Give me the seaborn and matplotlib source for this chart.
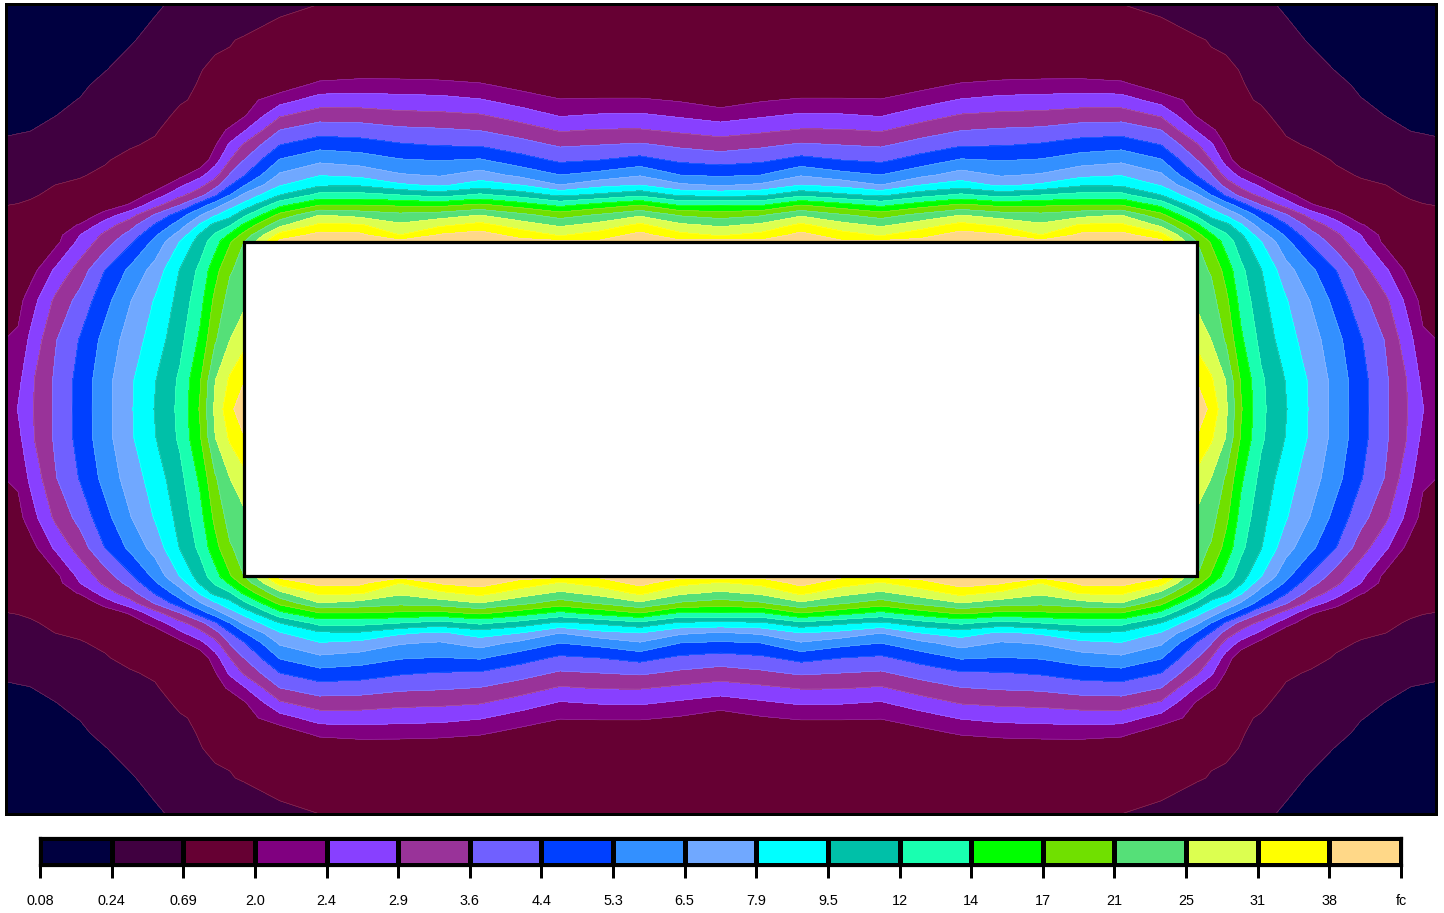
import numpy as np
import matplotlib
matplotlib.use('Agg')
import matplotlib.pyplot as plt
from matplotlib.colors import ListedColormap
from matplotlib.patches import Rectangle
import seaborn as sns

# illuminance legend
break_labels = ['0.08', '0.24', '0.69', '2.0', '2.4', '2.9', '3.6', '4.4', '5.3', '6.5', '7.9',
                '9.5', '12', '14', '17', '21', '25', '31', '38', 'fc']
band_colors = ['#000040', '#400040', '#660033', '#800080', '#8840FF', '#993399', '#7060FF', '#0040FF',
               '#3390FF', '#70A8FF', '#00FFFF', '#00C0A8', '#19FFB0', '#00FF00', '#70E000', '#55E078',
               '#DCFF50', '#FFFF00', '#FFD888']

# measuring stations of the top left quarter of the room, the rest is symmetric
x_stations = [5, 18, 30, 55, 80, 105, 130, 155, 180, 200, 215, 230, 244,
              280, 320, 360, 400, 440, 480, 520, 560, 600, 640, 680, 720.5]
y_stations = [4, 40, 70, 85, 100, 115, 130, 145, 160, 175, 185, 195, 205, 215, 225, 235, 242,
              270, 300, 340, 380, 409]

# position inside the legend scale (0 = 0.08 fc, 1 = 0.24 fc, ...), one list for each x station
band_x005 = [.05, .26, .49, .6, .72, .83, .93, 1.09, 1.31, 1.54, 1.69, 1.84, 1.99, 2.07, 2.15, 2.22, 2.27, 2.3, 2.4, 3.01, 3.25, 3.35]
band_x018 = [.07, .3, .52, .63, .74, .85, .95, 1.15, 1.37, 1.6, 1.74, 1.88, 2.02, 2.1, 2.15, 2.2, 2.25, 2.4, 2.65, 3.18, 3.7, 4.05]
band_x030 = [.1, .35, .56, .67, .77, .88, .98, 1.2, 1.42, 1.64, 1.79, 1.94, 2.07, 2.12, 2.16, 2.2, 2.25, 2.53, 3.47, 4.17, 4.77, 4.8]
band_x055 = [.2, .45, .66, .77, .88, .98, 1.19, 1.41, 1.63, 1.85, 2, 2.1, 2.2, 2.3, 2.4, 2.55, 2.68, 4.13, 5.17, 5.91, 6.13, 6.15]
band_x080 = [.3, .56, .79, .9, 1.02, 1.21, 1.4, 1.59, 1.78, 1.96, 2.08, 2.1, 2.15, 2.2, 3.09, 4, 4.28, 5.45, 6.34, 7.07, 7.35, 7.4]
band_x105 = [.5, .75, .98, 1.15, 1.31, 1.47, 1.63, 1.79, 1.95, 2.1, 2.2, 2.25, 2.33, 3.44, 4.5, 5.22, 5.52, 7, 7.64, 8.33, 8.63, 8.65]
band_x130 = [.6, .94, 1.22, 1.37, 1.51, 1.65, 1.8, 1.94, 2.17, 2.2, 2.2, 2.25, 3.13, 4.6, 5.6, 6.33, 6.8, 8.21, 8.93, 9.45, 9.82, 9.86]
band_x155 = [.9, 1.19, 1.44, 1.56, 1.69, 1.81, 1.93, 2.1, 2.2, 2.25, 2.33, 3.44, 4.63, 6.1, 7.08, 7.85, 8.28, 9.39, 10.07, 10.46, 10.95, 11.05]
band_x180 = [1.14, 1.45, 1.7, 1.81, 1.95, 2.1, 2.33, 2.4, 2.5, 2.67, 3.78, 4.73, 6, 7.56, 8.5, 9.4, 10.05, 11.05, 11.33, 11.7, 12.18, 12.25]
band_x200 = [1.26, 1.65, 1.97, 2.05, 2.08, 2.1, 2.12, 2.15, 2.2, 3.7, 4.7, 5.64, 7.5, 8.89, 10.13, 11.14, 11.48, 12.23, 12.63, 13.19, 13.9, 14.1]
band_x215 = [1.3, 1.85, 2.15, 2.2, 2.3, 2.4, 2.5, 2.91, 3.57, 4.63, 5.58, 6.83, 8.5, 9.88, 11.33, 12.13, 12.57, 13.62, 14.24, 14.87, 15.95, 16.2]
band_x230 = [1.5, 1.97, 2.1, 2.1, 2.15, 2.2, 3.2, 4.17, 5, 6.08, 6.92, 8, 9.56, 10.67, 11.88, 13.2, 13.9, 14.9, 15.4, 16, 17.15, 17.73]
band_x244 = [1.6, 2.05, 2.2, 2.4, 2.6, 2.86, 3.88, 5.12, 6, 6.9, 7.9, 9.2, 10.3, 11.75, 13.2, 14.33, 15, 15.35, 15.76, 16.66, 17.93, 18.7]
# these stations end at the top edge of the building
band_x280 = [1.85, 2.26, 2.3, 2.37, 3.59, 4.85, 6, 7, 8.07, 9.15, 9.92, 11, 12.72, 14.29, 15.75, 17.38, 18.3]
band_x320 = [2, 2.1, 2.15, 3.31, 4.44, 5.52, 6.55, 7.62, 8.77, 9.94, 10.85, 12.33, 14, 16, 17.22, 18.33, 18.9]
band_x360 = [2.1, 2.25, 2.39, 3.44, 4.47, 5.48, 6.48, 7.47, 8.51, 9.73, 10.86, 12.33, 14, 15.66, 17.11, 18.22, 18.9]
band_x400 = [2.2, 2.3, 2.4, 3.4, 4.36, 5.27, 6.2, 7.12, 8.07, 9.1, 10.15, 12, 13.83, 15.28, 16.17, 17, 18.4]
band_x440 = [2.2, 2.3, 2.33, 3.33, 4.3, 5.2, 6.11, 6.94, 7.95, 8.89, 9.83, 11.58, 13.72, 15.52, 16.8, 18.1, 18.9]
band_x480 = [2.2, 2.2, 2.19, 3.13, 4.07, 5.06, 5.96, 6.9, 8.09, 9.45, 10.44, 12.2, 14.2, 16, 17.33, 18.44, 18.9]
band_x520 = [2.3, 2.4, 2.5, 2.66, 3.55, 4.51, 5.5, 6.41, 7.42, 8.73, 10, 11.58, 13.53, 15.29, 16.5, 17.62, 18.4]
band_x560 = [2.3, 2.25, 2.2, 2.21, 3.06, 3.9, 4.89, 5.87, 6.81, 8, 9, 10.8, 12.72, 14.55, 15.81, 16.9, 18.3]
band_x600 = [2.3, 2.25, 2.2, 2.19, 3.12, 4.07, 5.06, 6, 7, 8.34, 9.68, 11.21, 13.4, 15.13, 16.35, 17.44, 18.2]
band_x640 = [2.3, 2.2, 2.15, 2.13, 3.13, 4.12, 5.07, 6.14, 7.33, 8.9, 10, 11.75, 14, 15.83, 17.22, 18.33, 18.9]
band_x680 = [2.4, 2.5, 2.6, 2.7, 2.89, 3.83, 4.8, 5.8, 6.8, 8, 9.17, 10.83, 12.88, 14.88, 16.2, 17.29, 18.3]
band_x720 = [2.4, 2.4, 2.4, 2.4, 2.45, 3.52, 4.54, 5.54, 6.58, 7.84, 8.9, 10.7, 13, 14.55, 15.8, 16.9, 18.5]

band_columns = [band_x005, band_x018, band_x030, band_x055, band_x080, band_x105, band_x130, band_x155, band_x180,
                band_x200, band_x215, band_x230, band_x244, band_x280, band_x320, band_x360, band_x400,
                band_x440, band_x480, band_x520, band_x560, band_x600, band_x640, band_x680, band_x720]

# building outline
building_left, building_right = 244, 1197
building_top, building_bottom = 242, 576

# mirror the quarter into the whole room
quarter = np.full((len(y_stations), len(x_stations)), np.nan)
for i, col in enumerate(band_columns):
    quarter[:len(col), i] = col
half = np.hstack([quarter, quarter[:, -2::-1]])
whole = np.vstack([half, half[-2::-1, :]])
x_all = np.array(x_stations)
x_all = np.concatenate([x_all, 1441 - x_all[-2::-1]])
y_all = np.array(y_stations)
y_all = np.concatenate([y_all, 818 - y_all[-2::-1]])

sns.set_theme(style='white')
plt.rcParams['font.family'] = ['Liberation Sans', 'DejaVu Sans']

W, H = 1444, 913
fig = plt.figure(figsize=(W / 100, H / 100), dpi=100)
cmap = ListedColormap(band_colors)
px = 0.72  # one pixel in points

# contour map
ax = fig.add_axes([5.5 / W, 1 - 814 / H, 1430.5 / W, 810 / H])
ax.contourf(x_all, y_all, whole, levels=np.arange(20), cmap=cmap, vmin=0, vmax=19)
ax.contour(x_all, y_all, whole, levels=np.arange(1, 19), colors='white', linewidths=0.3, alpha=0.3)
ax.add_patch(Rectangle((building_left, building_top), building_right - building_left,
                       building_bottom - building_top, facecolor='white', edgecolor='black',
                       linewidth=3.2 * px, zorder=5))
ax.set_xlim(5.5, 1436)
ax.set_ylim(814, 4)
ax.set_xticks([])
ax.set_yticks([])
for s in ax.spines.values():
    s.set_visible(True)
    s.set_color('black')
    s.set_linewidth(3 * px)

# legend strip
cax = fig.add_axes([40 / W, 1 - 865 / H, 1361 / W, 27 / H])
sns.heatmap([list(range(19))], ax=cax, cmap=cmap, vmin=-0.5, vmax=18.5, cbar=False,
            linewidths=3.2 * px, linecolor='black', square=False)
cax.set_xticks(np.arange(20))
cax.set_xticklabels(break_labels, rotation=0, fontsize=10.4, color='black')
cax.set_yticks([])
cax.tick_params(axis='x', bottom=True, length=13.5 * px, width=3 * px, color='black', pad=11)
for s in cax.spines.values():
    s.set_visible(True)
    s.set_color('black')
    s.set_linewidth(3.2 * px)

fig.savefig('out.png', dpi=100)
